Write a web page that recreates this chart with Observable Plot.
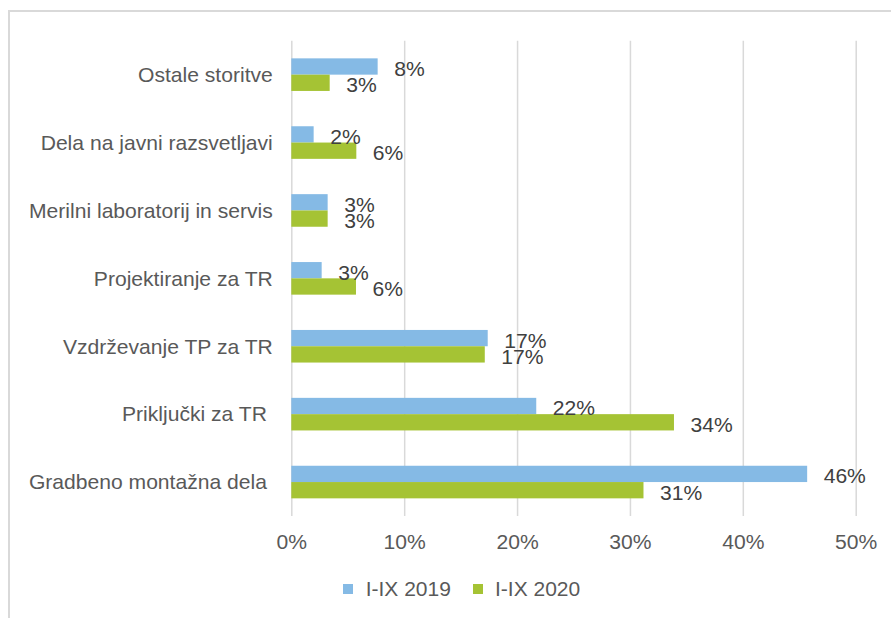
<!DOCTYPE html>
<html>
<head>
<meta charset="utf-8">
<script src="https://cdn.jsdelivr.net/npm/d3@7"></script>
<script src="https://cdn.jsdelivr.net/npm/@observablehq/plot@0.6"></script>
<style>
  html, body { margin: 0; padding: 0; background: #fff; }
  #wrap { position: relative; width: 891px; height: 618px; overflow: hidden; font-family: 'Liberation Sans', Arial, sans-serif; }
  #frame { position: absolute; left: 8px; top: 10px; width: 1000px; height: 700px; border-left: 2px solid #d9d9d9; border-top: 2px solid #d9d9d9; pointer-events: none; }
  .sw { position: absolute; width: 10px; height: 10px; top: 584px; }
  .lt { position: absolute; top: 577px; font-size: 21px; line-height: 24px; color: #595959; white-space: nowrap; }
</style>
</head>
<body>
<div id="wrap">
  <div id="chart"></div>
  <div id="frame"></div>
  <div id="legend"></div>
</div>
<script>
const categories = [
  "Ostale storitve",
  "Dela na javni razsvetljavi",
  "Merilni laboratorij in servis",
  "Projektiranje za TR",
  "Vzdrževanje TP za TR",
  "Priključki za TR\u00a0",
  "Gradbeno montažna dela\u00a0"
];
const series = ["I-IX 2019", "I-IX 2020"];
const values2019 = [7.65, 1.98, 3.22, 2.69, 17.4, 21.7, 45.7];
const values2020 = [3.4, 5.76, 3.22, 5.73, 17.14, 33.9, 31.2];
const xTicks = [0, 10, 20, 30, 40, 50];
const colors = ["#85bae5", "#a5c334"];

const rows = categories.map((c, i) => ({cat: c, v2019: values2019[i], v2020: values2020[i]}));

const H = 560, mt = 40.7, plotBottom = 516, mb = H - plotBottom;
const pi = 0.52, po = 0.26;
const step = (plotBottom - mt) / (categories.length - pi + 2 * po);
const half = step * (1 - pi) / 2;

const chart = Plot.plot({
  width: 891,
  height: H,
  marginLeft: 291.3,
  marginRight: 35.3,
  marginTop: mt,
  marginBottom: mb,
  style: {fontFamily: "'Liberation Sans', Arial, sans-serif", fontSize: "21.1px", color: "#595959", background: "transparent"},
  x: {domain: [0, 50], ticks: xTicks, tickFormat: d => d + "%", tickSize: 0, tickPadding: 18, label: null},
  y: {domain: categories, paddingInner: pi, paddingOuter: po, round: false, tickSize: 0, tickPadding: 19, label: null},
  marks: [
    Plot.ruleX(xTicks, {stroke: "#d9d9d9", strokeWidth: 1.5}),
    Plot.barX(rows, {x: "v2019", y: "cat", fill: colors[0], insetBottom: half}),
    Plot.barX(rows, {x: "v2020", y: "cat", fill: colors[1], insetTop: half}),
    Plot.text(rows, {x: "v2019", y: "cat", text: d => Math.round(d.v2019) + "%", dx: 16, dy: -6, textAnchor: "start", fill: "#404040"}),
    Plot.text(rows, {x: "v2020", y: "cat", text: d => Math.round(d.v2020) + "%", dx: 16, dy: 10.3, textAnchor: "start", fill: "#404040"})
  ]
});
document.getElementById("chart").appendChild(chart);

const legend = document.getElementById("legend");
const swX = [343, 473.3], txX = [365.7, 495];
series.forEach((s, i) => {
  const sw = document.createElement("div");
  sw.className = "sw"; sw.style.left = swX[i] + "px"; sw.style.background = colors[i];
  legend.appendChild(sw);
  const t = document.createElement("div");
  t.className = "lt"; t.style.left = txX[i] + "px"; t.textContent = s;
  legend.appendChild(t);
});
</script>
</body>
</html>
